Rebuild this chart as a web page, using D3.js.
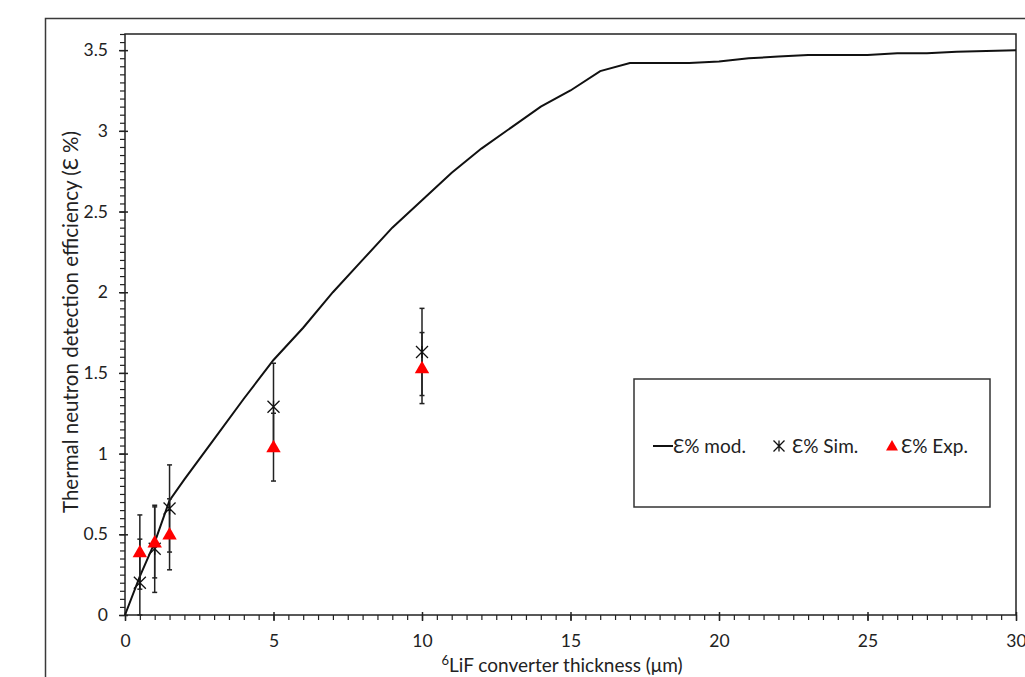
<!DOCTYPE html>
<html>
<head>
<meta charset="utf-8">
<script src="https://cdn.jsdelivr.net/npm/d3@7"></script>
<style>
  body { margin: 0; background: #fff; }
  svg { display: block; font-family: Lato, "Open Sans", sans-serif; }
</style>
</head>
<body>
<div id="chart"></div>
<script>
// Model curve: efficiency vs 6LiF thickness
const modelX = [0, 0.5, 1, 1.5, 2, 3, 4, 5, 6, 7, 8, 9, 10, 11, 12, 13, 14, 15, 16, 17, 18, 19, 20, 21, 22, 23, 24, 25, 26, 27, 28, 29, 30]
const modelY = [0, 0.24, 0.45, 0.71, 0.84, 1.09, 1.34, 1.58, 1.78, 2.0, 2.2, 2.4, 2.57, 2.74, 2.89, 3.02, 3.15, 3.25, 3.37, 3.42, 3.42, 3.42, 3.43, 3.45, 3.46, 3.47, 3.47, 3.47, 3.48, 3.48, 3.49, 3.495, 3.5]

// Simulation and experiment points with error bars
const pointX = [0.5, 1, 1.5, 5, 10]
const simY = [0.20, 0.41, 0.66, 1.29, 1.63]
const simErr = [0.27, 0.27, 0.27, 0.27, 0.27]
const expY = [0.39, 0.45, 0.50, 1.04, 1.53]
const expErr = [0.23, 0.22, 0.22, 0.21, 0.22]

const xTicks = [0, 5, 10, 15, 20, 25, 30]
const yTicks = [0, 0.5, 1, 1.5, 2, 2.5, 3, 3.5]
const legendLabels = ["Ɛ% mod.", "Ɛ% Sim.", "Ɛ% Exp."]

const width = 1025
const height = 677
const plot = { left: 125, right: 1016, top: 34, bottom: 615 }

const svg = d3.select("#chart").append("svg")
  .attr("width", width)
  .attr("height", height)

// Outer chart frame (runs off the page right/bottom)
svg.append("rect")
  .attr("x", 45.5).attr("y", 18.5)
  .attr("width", 1100).attr("height", 800)
  .attr("fill", "none")
  .attr("stroke", "#3a3a3a")
  .attr("stroke-width", 1.5)

const x = d3.scaleLinear().domain([0, 30]).range([plot.left, plot.right])
const y = d3.scaleLinear().domain([0, 3.6]).range([plot.bottom, plot.top]).clamp(true)

// Minor ticks
const xMinor = d3.range(0, 30.01, 0.5)
const yMinor = d3.range(0, 3.601, 0.05)

svg.append("g")
  .attr("transform", `translate(0,${plot.bottom})`)
  .call(d3.axisBottom(x).tickValues(xMinor).tickSize(5).tickFormat(""))
  .call(g => g.select(".domain").remove())
  .selectAll("line").attr("stroke", "#222").attr("stroke-width", 1.2)

svg.append("g")
  .attr("transform", `translate(${plot.left},0)`)
  .call(d3.axisLeft(y).tickValues(yMinor).tickSize(5).tickFormat(""))
  .call(g => g.select(".domain").remove())
  .selectAll("line").attr("stroke", "#222").attr("stroke-width", 1.2)

// Major ticks + labels
const xAxis = svg.append("g")
  .attr("transform", `translate(0,${plot.bottom})`)
  .call(d3.axisBottom(x).tickValues(xTicks).tickSize(6).tickPadding(14).tickFormat(d3.format("d")))
xAxis.select(".domain").remove()
xAxis.selectAll("line").attr("y1", -3).attr("stroke", "#222").attr("stroke-width", 1.5)
xAxis.selectAll("text").attr("font-size", "17.5px").attr("fill", "#222").attr("font-family", "Lato, sans-serif")

const yAxis = svg.append("g")
  .attr("transform", `translate(${plot.left},0)`)
  .call(d3.axisLeft(y).tickValues(yTicks).tickSize(6).tickPadding(11).tickFormat(d => String(d)))
yAxis.select(".domain").remove()
yAxis.selectAll("line").attr("x1", 3).attr("stroke", "#222").attr("stroke-width", 1.5)
yAxis.selectAll("text").attr("font-size", "17.5px").attr("fill", "#222").attr("font-family", "Lato, sans-serif")

// Plot area border
svg.append("rect")
  .attr("x", plot.left).attr("y", plot.top)
  .attr("width", plot.right - plot.left)
  .attr("height", plot.bottom - plot.top)
  .attr("fill", "none")
  .attr("stroke", "#222")
  .attr("stroke-width", 1.5)

// Axis titles
const xTitle = svg.append("text")
  .attr("x", 562)
  .attr("y", 672)
  .attr("text-anchor", "middle")
  .attr("font-size", "19px")
  .attr("fill", "#222")
xTitle.append("tspan").attr("font-size", "13px").attr("dy", -7).text("6")
xTitle.append("tspan").attr("dy", 7).text("LiF converter thickness (μm)")

svg.append("text")
  .attr("transform", `translate(78,322) rotate(-90)`)
  .attr("text-anchor", "middle")
  .attr("font-size", "20.5px")
  .attr("fill", "#222")
  .text("Thermal neutron detection efficiency (Ɛ %)")

// Model line
const line = d3.line()
  .x(d => x(d[0]))
  .y(d => y(d[1]))

svg.append("path")
  .datum(modelX.map((v, i) => [v, modelY[i]]))
  .attr("d", line)
  .attr("fill", "none")
  .attr("stroke", "#111")
  .attr("stroke-width", 2)

// Error bars
function errorBars(values, errs) {
  const g = svg.append("g").attr("stroke", "#222").attr("stroke-width", 1.5)
  pointX.forEach((px, i) => {
    const lo = y(values[i] - errs[i])
    const hi = y(values[i] + errs[i])
    g.append("line").attr("x1", x(px)).attr("x2", x(px)).attr("y1", lo).attr("y2", hi)
    g.append("line").attr("x1", x(px) - 2.5).attr("x2", x(px) + 2.5).attr("y1", lo).attr("y2", lo)
    g.append("line").attr("x1", x(px) - 2.5).attr("x2", x(px) + 2.5).attr("y1", hi).attr("y2", hi)
  })
}
errorBars(simY, simErr)
errorBars(expY, expErr)

// Star marker (x with vertical stroke)
function starPath(cx, cy, s) {
  return `M${cx - s},${cy - s}L${cx + s},${cy + s}M${cx - s},${cy + s}L${cx + s},${cy - s}M${cx},${cy - s}L${cx},${cy + s}`
}
const tri = d3.symbol().type(d3.symbolTriangle)

svg.append("g").selectAll("path")
  .data(pointX)
  .join("path")
  .attr("d", (d, i) => starPath(x(d), y(simY[i]), 6))
  .attr("stroke", "#111")
  .attr("stroke-width", 1.3)
  .attr("fill", "none")

svg.append("g").selectAll("path")
  .data(pointX)
  .join("path")
  .attr("transform", (d, i) => `translate(${x(d)},${y(expY[i]) + 1})`)
  .attr("d", tri.size(90)())
  .attr("fill", "#ff0000")

// Legend
const legend = svg.append("g").attr("transform", "translate(634,379)")
legend.append("rect")
  .attr("width", 356).attr("height", 128)
  .attr("fill", "#fff")
  .attr("stroke", "#333")
  .attr("stroke-width", 1.5)

const ly = 67
legend.append("line")
  .attr("x1", 19).attr("x2", 39).attr("y1", ly).attr("y2", ly)
  .attr("stroke", "#111").attr("stroke-width", 2)
legend.append("path")
  .attr("d", starPath(145, ly, 5.5))
  .attr("stroke", "#111").attr("stroke-width", 1.3).attr("fill", "none")
legend.append("path")
  .attr("transform", `translate(258,${ly + 1})`)
  .attr("d", tri.size(62)())
  .attr("fill", "#ff0000")

const legendX = [39, 158, 267]
legend.selectAll("text.lg")
  .data(legendLabels)
  .join("text")
  .attr("class", "lg")
  .attr("x", (d, i) => legendX[i])
  .attr("y", ly + 7)
  .attr("font-size", "19px")
  .attr("fill", "#222")
  .text(d => d)
</script>
</body>
</html>
